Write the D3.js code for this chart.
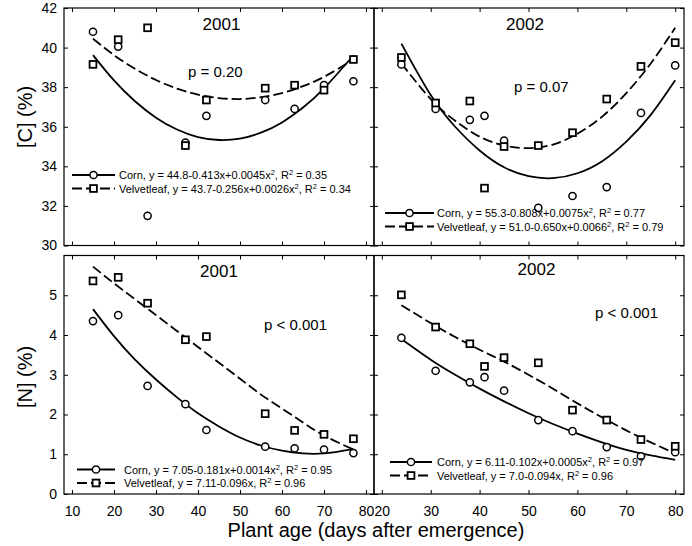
<!DOCTYPE html>
<html>
<head>
<meta charset="utf-8">
<script src="https://cdn.jsdelivr.net/npm/d3@7"></script>
<style>
  body { margin: 0; background: #fff; }
  svg { font-family: "Liberation Sans", Arial, Helvetica, sans-serif; }
  .tick text { font-size: 14px; fill: #000; }
  .tick line { stroke: #000; stroke-width: 1; }
</style>
</head>
<body>
<svg id="chart" width="692" height="546"></svg>
<script>
//Sampling days for each year
let days2001 = [15, 21, 28, 37, 42, 56, 63, 70, 77];
let days2002 = [24, 31, 38, 41, 45, 52, 59, 66, 73, 80];

//Carbon concentration (%)
let cornC2001 = [40.8, 40.05, 31.5, 35.2, 36.55, 37.35, 36.9, 38.1, 38.3];
let velvC2001 = [39.15, 40.4, 41.0, 35.05, 37.35, 37.95, 38.1, 37.85, 39.4];
let cornC2002 = [39.15, 36.9, 36.35, 36.55, 35.3, 31.9, 32.5, 32.95, 36.7, 39.1];
let velvC2002 = [39.5, 37.2, 37.3, 32.9, 35.0, 35.05, 35.7, 37.4, 39.05, 40.25];

//Nitrogen concentration (%)
let cornN2001 = [4.35, 4.5, 2.72, 2.26, 1.61, 1.19, 1.15, 1.12, 1.03];
let velvN2001 = [5.36, 5.45, 4.8, 3.88, 3.96, 2.02, 1.6, 1.5, 1.39];
let cornN2002 = [3.93, 3.1, 2.81, 2.94, 2.6, 1.86, 1.58, 1.18, 0.95, 1.05];
let velvN2002 = [5.01, 4.2, 3.78, 3.21, 3.43, 3.3, 2.11, 1.86, 1.37, 1.2];

//Fitted curves
let fitDays2001 = [15, 20, 25, 30, 35, 40, 45, 50, 55, 60, 65, 70, 77];
let fitDays2002 = [24, 30, 35, 40, 45, 50, 55, 60, 65, 70, 75, 80];
let cornCFit2001 = [39.62, 38.34, 37.29, 36.46, 35.86, 35.48, 35.33, 35.4, 35.7, 36.22, 36.97, 37.94, 39.6];
let velvCFit2001 = [40.45, 39.62, 38.93, 38.36, 37.93, 37.62, 37.45, 37.4, 37.49, 37.7, 38.05, 38.52, 39.4];
let cornCFit2002 = [40.2, 37.6, 36.0, 34.8, 33.95, 33.5, 33.4, 33.65, 34.25, 35.25, 36.6, 38.35];
let velvCFit2002 = [39.2, 37.4, 36.3, 35.5, 35.05, 34.92, 35.1, 35.65, 36.5, 37.7, 39.2, 41.0];
let cornNFit2001 = [4.65, 3.97, 3.38, 2.88, 2.43, 2.03, 1.7, 1.42, 1.22, 1.09, 1.02, 1.02, 1.13];
let velvNFit2001 = [5.72, 5.3, 4.9, 4.5, 4.1, 3.7, 3.3, 2.9, 2.5, 2.15, 1.8, 1.47, 1.12];
let cornNFit2002 = [3.9, 3.38, 3.0, 2.65, 2.33, 2.03, 1.76, 1.52, 1.3, 1.11, 0.97, 0.86];
let velvNFit2002 = [4.75, 4.3, 3.95, 3.63, 3.33, 3.0, 2.65, 2.28, 1.93, 1.6, 1.3, 1.02];

//Tick values
let xTicks2001 = [10, 20, 30, 40, 50, 60, 70, 80];
let xTicks2002 = [20, 30, 40, 50, 60, 70, 80];
let cTicks = [30, 32, 34, 36, 38, 40, 42];
let nTicks = [0, 1, 2, 3, 4, 5];

//Legend labels: alternate normal text / superscript
let legCornC2001 = ["Corn, y = 44.8-0.413x+0.0045x", "2", ", R", "2", " = 0.35"];
let legVelvC2001 = ["Velvetleaf, y = 43.7-0.256x+0.0026x", "2", ", R", "2", " = 0.34"];
let legCornC2002 = ["Corn, y = 55.3-0.808x+0.0075x", "2", ", R", "2", " = 0.77"];
let legVelvC2002 = ["Velvetleaf, y = 51.0-0.650x+0.0066", "2", ", R", "2", " = 0.79"];
let legCornN2001 = ["Corn, y = 7.05-0.181x+0.0014x", "2", ", R", "2", " = 0.95"];
let legVelvN2001 = ["Velvetleaf, y = 7.11-0.096x, R", "2", " = 0.96"];
let legCornN2002 = ["Corn, y = 6.11-0.102x+0.0005x", "2", ", R", "2", " = 0.97"];
let legVelvN2002 = ["Velvetleaf, y = 7.0-0.094x, R", "2", " = 0.96"];

let svg = d3.select("#chart");

//Panel boxes in pixels
let left = 64, mid = 374, right = 684;
let topC = 8, botC = 245.5, topN = 255.5, botN = 494;

let panels = [
  { title: "2001", p: "p = 0.20", x0: left, x1: mid, y0: topC, y1: botC, xDom: [8.1, 81.9], yDom: [30, 42],
    xt: xTicks2001, yt: cTicks, showY: true, showX: false,
    days: days2001, corn: cornC2001, velv: velvC2001, fd: fitDays2001, cf: cornCFit2001, vf: velvCFit2001,
    lc: legCornC2001, lv: legVelvC2001, titleAt: [221.5, 30], pAt: [188, 77], leg: [72, 115, 175, 119] },
  { title: "2002", p: "p = 0.07", x0: mid, x1: right, y0: topC, y1: botC, xDom: [18.4, 81.8], yDom: [30, 42],
    xt: xTicks2002, yt: cTicks, showY: false, showX: false,
    days: days2002, corn: cornC2002, velv: velvC2002, fd: fitDays2002, cf: cornCFit2002, vf: velvCFit2002,
    lc: legCornC2002, lv: legVelvC2002, titleAt: [525, 30], pAt: [514, 91.5], leg: [385, 434, 213, 437] },
  { title: "2001", p: "p < 0.001", x0: left, x1: mid, y0: topN, y1: botN, xDom: [8.1, 81.9], yDom: [0, 6],
    xt: xTicks2001, yt: nTicks, showY: true, showX: true,
    days: days2001, corn: cornN2001, velv: velvN2001, fd: fitDays2001, cf: cornNFit2001, vf: velvNFit2001,
    lc: legCornN2001, lv: legVelvN2001, titleAt: [219, 277], pAt: [264, 330], leg: [77, 115, 469.5, 124] },
  { title: "2002", p: "p < 0.001", x0: mid, x1: right, y0: topN, y1: botN, xDom: [18.4, 81.8], yDom: [0, 6],
    xt: xTicks2002, yt: nTicks, showY: false, showX: true,
    days: days2002, corn: cornN2002, velv: velvN2002, fd: fitDays2002, cf: cornNFit2002, vf: velvNFit2002,
    lc: legCornN2002, lv: legVelvN2002, titleAt: [536.5, 275], pAt: [595, 318], leg: [390, 432, 462, 437] }
];

//Draw a circle marker
function circleMark(g, cx, cy) {
  g.append("circle").attr("cx", cx).attr("cy", cy).attr("r", 3.6)
    .attr("fill", "#fff").attr("stroke", "#000").attr("stroke-width", 1.5);
}
//Draw a square marker
function squareMark(g, cx, cy) {
  g.append("rect").attr("x", cx - 3.4).attr("y", cy - 3.4).attr("width", 6.8).attr("height", 6.8)
    .attr("fill", "#fff").attr("stroke", "#000").attr("stroke-width", 1.8);
}
//Legend text with superscripts
function legendText(g, x, y, parts) {
  let t = g.append("text").attr("x", x).attr("y", y).attr("font-size", 11).attr("fill", "#000");
  parts.forEach(function (s, i) {
    let sup = i % 2 === 1;
    t.append("tspan").attr("font-size", sup ? 7.5 : 11).attr("dy", sup ? -4 : (i > 0 ? 4 : 0)).text(s);
  });
}

panels.forEach(function (pn) {
  let x = d3.scaleLinear().domain(pn.xDom).range([pn.x0, pn.x1]);
  let y = d3.scaleLinear().domain(pn.yDom).range([pn.y1, pn.y0]);
  let g = svg.append("g");

  //inward ticks on all four sides
  g.append("g").attr("transform", "translate(0," + pn.y1 + ")")
    .call(d3.axisBottom(x).tickValues(pn.xt).tickSize(-4).tickPadding(12)
      .tickFormat(pn.showX ? d3.format("d") : ""));
  g.append("g").attr("transform", "translate(0," + pn.y0 + ")")
    .call(d3.axisTop(x).tickValues(pn.xt).tickSize(-4).tickFormat(""));
  g.append("g").attr("transform", "translate(" + pn.x0 + ",0)")
    .call(d3.axisLeft(y).tickValues(pn.yt).tickSize(-4).tickPadding(7)
      .tickFormat(pn.showY ? d3.format("d") : ""));
  g.append("g").attr("transform", "translate(" + pn.x1 + ",0)")
    .call(d3.axisRight(y).tickValues(pn.yt).tickSize(-4).tickFormat(""));
  g.selectAll(".domain").remove();

  //panel frame
  g.append("rect").attr("x", pn.x0).attr("y", pn.y0)
    .attr("width", pn.x1 - pn.x0).attr("height", pn.y1 - pn.y0)
    .attr("fill", "none").attr("stroke", "#000").attr("stroke-width", 1.2);

  //fitted curves
  let line = d3.line().x(function (d) { return x(d[0]); }).y(function (d) { return y(d[1]); })
    .curve(d3.curveNatural);
  g.append("path").datum(d3.zip(pn.fd, pn.cf)).attr("d", line)
    .attr("fill", "none").attr("stroke", "#000").attr("stroke-width", 1.8);
  g.append("path").datum(d3.zip(pn.fd, pn.vf)).attr("d", line)
    .attr("fill", "none").attr("stroke", "#000").attr("stroke-width", 1.8).attr("stroke-dasharray", "10,4");

  //data points
  pn.days.forEach(function (d, i) {
    circleMark(g, x(d), y(pn.corn[i]));
    squareMark(g, x(d), y(pn.velv[i]));
  });

  //titles and p-values
  g.append("text").attr("x", pn.titleAt[0]).attr("y", pn.titleAt[1]).attr("text-anchor", "middle")
    .attr("font-size", 17).text(pn.title);
  g.append("text").attr("x", pn.pAt[0]).attr("y", pn.pAt[1]).attr("font-size", 15).text(pn.p);

  //legend
  let lx0 = pn.leg[0], lx1 = pn.leg[1], ly = pn.leg[2], tx = pn.leg[3];
  let lm = (lx0 + lx1) / 2;
  g.append("line").attr("x1", lx0).attr("x2", lx1).attr("y1", ly).attr("y2", ly)
    .attr("stroke", "#000").attr("stroke-width", 1.8);
  circleMark(g, lm, ly);
  legendText(g, tx, ly + 4, pn.lc);
  g.append("line").attr("x1", lx0).attr("x2", lx1).attr("y1", ly + 13.5).attr("y2", ly + 13.5)
    .attr("stroke", "#000").attr("stroke-width", 1.8).attr("stroke-dasharray", "10,4");
  squareMark(g, lm, ly + 13.5);
  legendText(g, tx, ly + 17.5, pn.lv);
});

//axis titles
svg.append("text").attr("transform", "translate(32,117) rotate(-90)").attr("text-anchor", "middle")
  .attr("font-size", 20).text("[C] (%)");
svg.append("text").attr("transform", "translate(32,377) rotate(-90)").attr("text-anchor", "middle")
  .attr("font-size", 20).text("[N] (%)");
svg.append("text").attr("x", 376).attr("y", 537).attr("text-anchor", "middle")
  .attr("font-size", 20).text("Plant age (days after emergence)");
</script>
</body>
</html>
